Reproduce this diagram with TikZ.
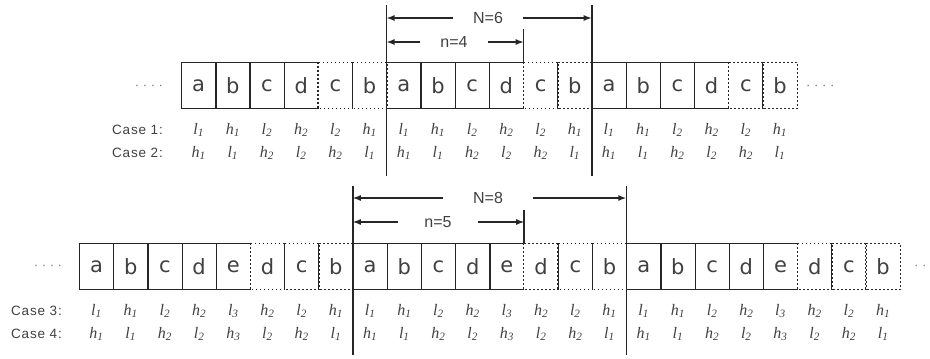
\documentclass[tikz,border=0pt]{standalone}
\usepackage{fontspec}
\setmainfont{Liberation Sans}
\newfontfamily\cellfont{DejaVu Sans}
\newfontfamily\labfont{Liberation Serif}
\newfontfamily\casefont[LetterSpace=6]{Liberation Sans}
\usetikzlibrary{arrows.meta}
\definecolor{ink}{gray}{0.15}
\definecolor{txt}{gray}{0.25}
\definecolor{dotc}{gray}{0.45}
\begin{document}
\begin{tikzpicture}[x=1pt,y=-1pt,
  cell/.style={minimum width=34.2pt,minimum height=46pt,inner sep=0pt,text=txt,font=\cellfont\fontsize{21}{21}\selectfont},
  solidl/.style={draw=ink,line width=1.3pt},
  dotl/.style={draw=ink,line width=1.3pt,dash pattern=on 1.5pt off 2.5pt},
  vline/.style={draw=ink,line width=1.8pt},
  nline/.style={draw=ink,line width=1.5pt},
  arr/.style={draw=ink,line width=1.4pt,-{Latex[length=8pt,width=6pt]}},
  lab/.style={font=\labfont\itshape\fontsize{16}{16}\selectfont,text=txt,inner sep=0pt},
  casel/.style={font=\casefont\fontsize{13.5}{13.5}\selectfont,text=txt,anchor=west,inner sep=0pt},
  dim/.style={font=\fontsize{16}{16}\selectfont,text=txt,inner sep=0pt,minimum height=10pt},
  dotsn/.style={font=\fontsize{13}{13}\selectfont,text=dotc,inner sep=0pt}
]
\useasboundingbox (0,0) rectangle (930,359);

% ---------------- top row (N=6, n=4) ----------------
\foreach \p in {1,2,3}{
  \foreach \c [count=\i] in {a,b,c,d,c,b}{
    \pgfmathsetmacro\xx{181.5+((\p-1)*6+\i-0.5)*34.2}
    \node[cell] (t-\p-\i) at (\xx,85.5) {\c};
  }
  \draw[solidl] (t-\p-4.north east) -| (t-\p-1.south west) -- (t-\p-4.south east);
  \foreach \i in {1,2,3} \draw[solidl] (t-\p-\i.north east) -- (t-\p-\i.south east);
  \foreach \i in {5,6} \draw[dotl] (t-\p-\i.north west) rectangle (t-\p-\i.south east);
}
\coordinate (r1) at (0,130);
\coordinate (r2) at (0,153);
\foreach \p in {1,2,3}{
  \foreach \v/\n [count=\i] in {l/1,h/1,l/2,h/2,l/2,h/1}
    \node[lab] (ca-\p-\i) at (t-\p-\i |- r1) {\v\textsubscript{\n}};
  \foreach \v/\n [count=\i] in {h/1,l/1,h/2,l/2,h/2,l/1}
    \node[lab] (cb-\p-\i) at (t-\p-\i |- r2) {\v\textsubscript{\n}};
}
\node[casel] (case1) at (112,130) {Case 1:};
\node[casel] (case2) at (112,153) {Case 2:};
\node[dotsn] (dtl) at (149,87) {· · · ·};
\node[dotsn,anchor=west] (dtr) at (806,87) {· · · ·};

\coordinate (v1t) at (t-2-1.north west |- 0,5);
\coordinate (v1b) at (t-2-1.north west |- 0,176);
\coordinate (v2t) at (t-3-1.north west |- 0,5);
\coordinate (v2b) at (t-3-1.north west |- 0,176);
\path (t-2-4.north east) ++(0,-33) coordinate (n4t);
\draw[vline] (v1t) -- (v1b);
\draw[vline] (v2t) -- (v2b);
\draw[nline] (n4t) -- (t-2-4.north east);

\node[dim,minimum width=70pt] (N6) at (488,18) {N=6};
\draw[arr] (N6.west) -- (N6.west -| v1t);
\draw[arr] (N6.east) -- (N6.east -| v2t);
\node[dim,minimum width=68pt] (n4) at (454,42) {n=4};
\draw[arr] (n4.west) -- (n4.west -| v1t);
\draw[arr] (n4.east) -- (n4.east -| n4t);

% ---------------- bottom row (N=8, n=5) ----------------
\foreach \p in {1,2,3}{
  \foreach \c [count=\i] in {a,b,c,d,e,d,c,b}{
    \pgfmathsetmacro\xx{79.4+((\p-1)*8+\i-0.5)*34.2}
    \node[cell] (b-\p-\i) at (\xx,266.5) {\c};
  }
  \draw[solidl] (b-\p-5.north east) -| (b-\p-1.south west) -- (b-\p-5.south east);
  \foreach \i in {1,2,3,4} \draw[solidl] (b-\p-\i.north east) -- (b-\p-\i.south east);
  \foreach \i in {6,7,8} \draw[dotl] (b-\p-\i.north west) rectangle (b-\p-\i.south east);
}
\coordinate (r3) at (0,311);
\coordinate (r4) at (0,334);
\foreach \p in {1,2,3}{
  \foreach \v/\n [count=\i] in {l/1,h/1,l/2,h/2,l/3,h/2,l/2,h/1}
    \node[lab] (cc-\p-\i) at (b-\p-\i |- r3) {\v\textsubscript{\n}};
  \foreach \v/\n [count=\i] in {h/1,l/1,h/2,l/2,h/3,l/2,h/2,l/1}
    \node[lab] (cd-\p-\i) at (b-\p-\i |- r4) {\v\textsubscript{\n}};
}
\node[casel] (case3) at (11,311) {Case 3:};
\node[casel] (case4) at (11,334) {Case 4:};
\node[dotsn] (dbl) at (48,267) {· · · ·};
\node[dotsn,anchor=west] (dbr) at (914,267) {· ·};

\coordinate (w1t) at (b-2-1.north west |- 0,186);
\coordinate (w1b) at (b-2-1.north west |- 0,355);
\coordinate (w2t) at (b-3-1.north west |- 0,186);
\coordinate (w2b) at (b-3-1.north west |- 0,355);
\path (b-2-5.north east) ++(0,-33) coordinate (n5t);
\draw[vline] (w1t) -- (w1b);
\draw[vline] (w2t) -- (w2b);
\draw[nline] (n5t) -- (b-2-5.north east);

\node[dim,minimum width=90pt] (N8) at (488,198) {N=8};
\draw[arr] (N8.west) -- (N8.west -| w1t);
\draw[arr] (N8.east) -- (N8.east -| w2t);
\node[dim,minimum width=80pt] (n5) at (438,222) {n=5};
\draw[arr] (n5.west) -- (n5.west -| w1t);
\draw[arr] (n5.east) -- (n5.east -| n5t);
\end{tikzpicture}
\end{document}
